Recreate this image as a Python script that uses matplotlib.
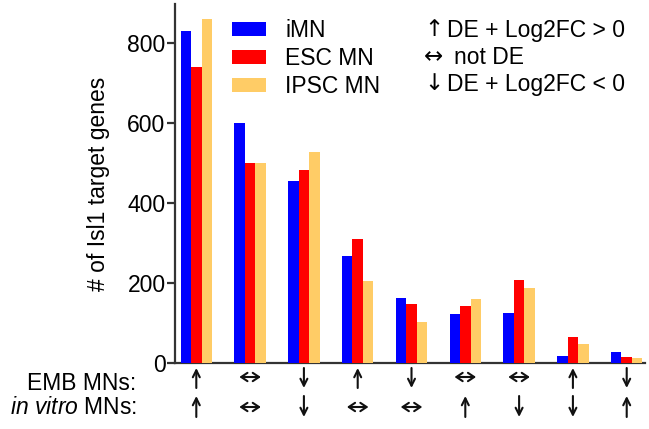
import matplotlib
matplotlib.use("Agg")
import matplotlib.pyplot as plt
import numpy as np

plt.rcParams['font.family'] = ['Liberation Sans', 'DejaVu Sans']
plt.rcParams['mathtext.fontset'] = 'custom'
plt.rcParams['mathtext.rm'] = 'Liberation Sans'
plt.rcParams['mathtext.it'] = 'Liberation Sans:italic'

series_names = ["iMN", "ESC MN", "IPSC MN"]
imn = [831, 601, 455, 268, 162, 124, 125, 17, 27]
esc = [741, 500, 482, 311, 147, 142, 208, 66, 16]
ipsc = [861, 500, 528, 206, 102, 160, 189, 47, 13]
colors = ["#0000FF", "#FF0000", "#FFCC66"]
emb_dirs = ["up", "both", "down", "up", "down", "both", "both", "up", "down"]
vitro_dirs = ["up", "both", "down", "both", "both", "up", "down", "down", "up"]
yticks = [0, 200, 400, 600, 800]
ylabel = "# of Isl1 target genes"
key_arrows = ["\u2191", "\u2194", "\u2193"]
key_texts = ["DE + Log2FC > 0", "not DE", "DE + Log2FC < 0"]

FS = 16.5
W, H = 649, 429
fig = plt.figure(figsize=(W / 100, H / 100), dpi=100)
ax_l, ax_r, ax_t, ax_b = 175, 645, 4, 363.3
ax = fig.add_axes([ax_l / W, 1 - ax_b / H, (ax_r - ax_l) / W, (ax_b - ax_t) / H])

x = np.arange(len(imn))
bw = 0.195
for k, (vals, c, name) in enumerate(zip([imn, esc, ipsc], colors, series_names)):
    ax.bar(x + (k - 1) * bw, vals, width=bw, color=c, label=name, zorder=3)

ax.set_xlim(-0.396, 8.34)
ax.set_ylim(0, 898)
ax.set_yticks(yticks)
ax.set_xticks([])
for s in ["top", "right"]:
    ax.spines[s].set_visible(False)
for s in ["left", "bottom"]:
    ax.spines[s].set_linewidth(1.6)
    ax.spines[s].set_color("#333333")
ax.tick_params(axis='y', direction='out', length=5.8, width=1.6, color="#333333",
               labelsize=FS, pad=1)
ax.set_ylabel(ylabel, fontsize=FS)
ax.yaxis.set_label_coords(-0.138, 0.5)

leg = ax.legend(loc='upper left', bbox_to_anchor=(231.7 / W, 1 - 19 / H),
                bbox_transform=fig.transFigure, frameon=False, fontsize=FS,
                handlelength=1.48, handleheight=0.61, handletextpad=0.85,
                labelspacing=0.22, borderpad=0, borderaxespad=0)

for i, (a, t) in enumerate(zip(key_arrows, key_texts)):
    yc = 1 - (30 + 27 * i) / H
    fig.text(424 / W, yc, a, fontsize=FS, va='center', ha='left',
             family=['DejaVu Sans'])
    fig.text((447 if i != 1 else 454) / W, yc, t, fontsize=FS, va='center', ha='left')

fig.text(136.7 / W, 1 - 383 / H, "EMB MNs:", fontsize=FS, ha='right', va='center')
fig.text(136.7 / W, 1 - 408 / H, r"$\mathit{in\ vitro}$ MNs:", fontsize=FS,
         ha='right', va='center')

trans = ax.get_xaxis_transform()
axh = ax_b - ax_t
def fy(px):
    return (ax_b - px) / axh

def draw_arrow(xc, d, top, bot, mid):
    props = dict(arrowstyle='->,head_length=0.5,head_width=0.25', lw=1.5, color='#111111',
                 shrinkA=0, shrinkB=0)
    if d == "up":
        ax.annotate("", xy=(xc, fy(top)), xytext=(xc, fy(bot)), xycoords=trans,
                    textcoords=trans, arrowprops=props, annotation_clip=False)
    elif d == "down":
        ax.annotate("", xy=(xc, fy(bot)), xytext=(xc, fy(top)), xycoords=trans,
                    textcoords=trans, arrowprops=props, annotation_clip=False)
    else:
        p2 = dict(props)
        p2['arrowstyle'] = '<->,head_length=0.45,head_width=0.3'
        ax.annotate("", xy=(xc + 0.2, fy(mid)), xytext=(xc - 0.2, fy(mid)), xycoords=trans,
                    textcoords=trans, arrowprops=p2, annotation_clip=False)

for i in range(len(x)):
    draw_arrow(x[i], emb_dirs[i], 368, 388, 377)
    draw_arrow(x[i], vitro_dirs[i], 396, 417, 407)

fig.savefig("out.png", dpi=100)
